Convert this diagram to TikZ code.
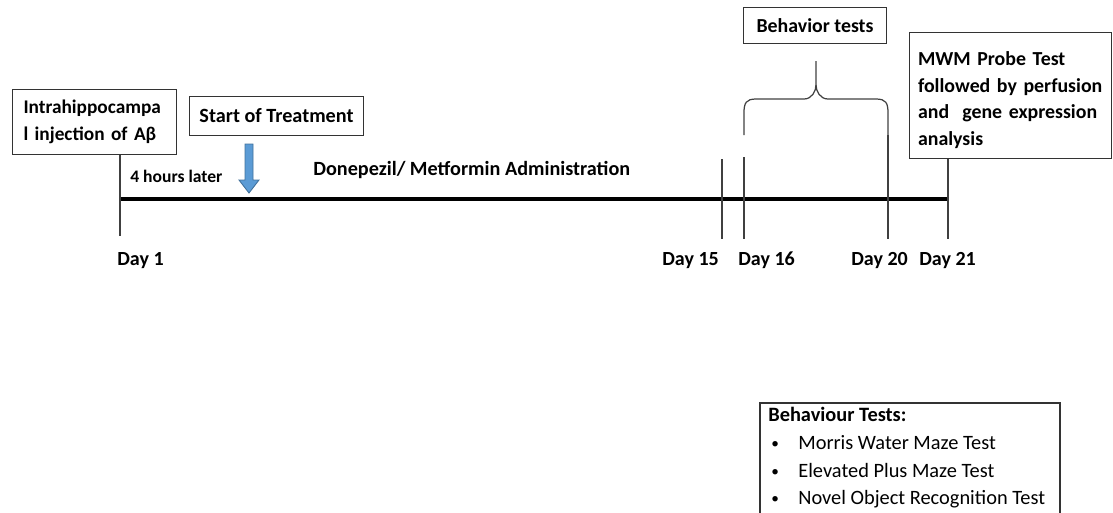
\documentclass[tikz,border=0pt]{standalone}
\usepackage{fontspec}
\setmainfont{Carlito}

\definecolor{arrowblue}{RGB}{91,155,213}
\definecolor{arrowedge}{RGB}{65,113,156}
\newcommand\smallbullet{\hspace{0.06cm}\makebox[0.54cm][l]{\raisebox{0.12ex}{\scalebox{0.75}{\textbullet}}}}
\tikzset{
  box/.style={draw=black!80,line width=0.6pt,fill=white,inner sep=0pt,
    font=\bfseries\fontsize{11.3}{15.3}\selectfont},
  daylbl/.style={anchor=base west,inner sep=0pt,font=\bfseries\fontsize{11.4}{13}\selectfont},
  tickline/.style={draw=black!75,line width=0.7pt},
}

\begin{document}
\begin{tikzpicture}[x=0.02cm,y=-0.02cm]
  \clip (0,0) rectangle (1113,512);
  \coordinate (d1) at (120,199);
  \coordinate (d15) at (722,199);
  \coordinate (d16) at (744,199);
  \coordinate (d20) at (888,199);
  \coordinate (d21) at (948,199);

  \node[box,anchor=north west,minimum width=3.28cm,minimum height=1.3cm,
    text width=2.84cm,align=left,font=\bfseries\fontsize{11}{15.3}\selectfont] (inj) at (12,89)
    {Intrahippocampa\\l injection of Aβ};
  \node[box,anchor=north west,minimum width=3.48cm,minimum height=0.78cm,
    font=\bfseries\fontsize{11.5}{15.3}\selectfont] (start) at (189,96) {Start of Treatment};
  \node[box,anchor=north west,minimum width=2.86cm,minimum height=0.72cm] (beh) at (743,7) {Behavior tests};
  \node[box,anchor=north west,minimum width=4.04cm,minimum height=2.52cm,
    text width=3.7cm,align=left] (mwm) at (909,32)
    {\rule{0pt}{0.46cm}MWM Probe Test\\followed by perfusion\\and\ \ gene expression\\analysis};

  \draw[line width=2.8pt] (d1) -- (d21);
  \draw[tickline] (inj.south -| d1) -- ++(0,81);
  \draw[tickline] (d15) ++(0,-40) -- ++(0,80);
  \draw[tickline] (d16) ++(0,-42) -- ++(0,82);
  \draw[tickline] (d20) ++(0,-64) -- ++(0,104);
  \draw[tickline] (mwm.south -| d21) -- ++(0,80);

  \coordinate (bl) at (744,135);
  \coordinate (br) at (888,135);
  \draw[tickline] (bl) -- ++(0,-22) .. controls ++(0,-10) and ++(-10,0) .. ++(12,-14)
    -- ++(48,0) .. controls ++(8,0) and ++(0,6) .. ++(12,-14) -- ++(0,-24);
  \draw[tickline] (br) -- ++(0,-22) .. controls ++(0,-10) and ++(10,0) .. ++(-12,-14)
    -- ++(-48,0) .. controls ++(-8,0) and ++(0,6) .. ++(-12,-14);

  \draw[fill=arrowblue,draw=arrowedge,line width=0.5pt] (245,144) -- (253,144) -- (253,180)
    -- (259,180) -- (249,193) -- (239,180) -- (245,180) -- cycle;

  \node[anchor=base west,inner sep=0pt,font=\bfseries\fontsize{10}{12}\selectfont] (later) at (130,182) {4 hours later};
  \node[anchor=base west,inner sep=0pt,font=\bfseries\fontsize{11.5}{13}\selectfont] (admin) at (313,175) {Donepezil/ Metformin Administration};

  \node[daylbl] (l1) at (117,265) {Day 1};
  \node[daylbl] (l15) at (662,265) {Day 15};
  \node[daylbl] (l16) at (738,265) {Day 16};
  \node[daylbl] (l20) at (851,265) {Day 20};
  \node[daylbl] (l21) at (919,265) {Day 21};

  \node[anchor=north west,align=left,inner sep=0pt,font=\fontsize{11.6}{15.8}\selectfont] (tests) at (768,407)
    {\textbf{Behaviour Tests:}\\
     \smallbullet Morris Water Maze Test\\
     \smallbullet Elevated Plus Maze Test\\
     \smallbullet Novel Object Recognition Test};
  \draw[draw=black!80,line width=0.6pt] (tests.north west) ++(-8,-4) coordinate (tl)
    (tl) ++(0,130) -- (tl) -- ++(300,0) -- ++(0,130);
\end{tikzpicture}
\end{document}
